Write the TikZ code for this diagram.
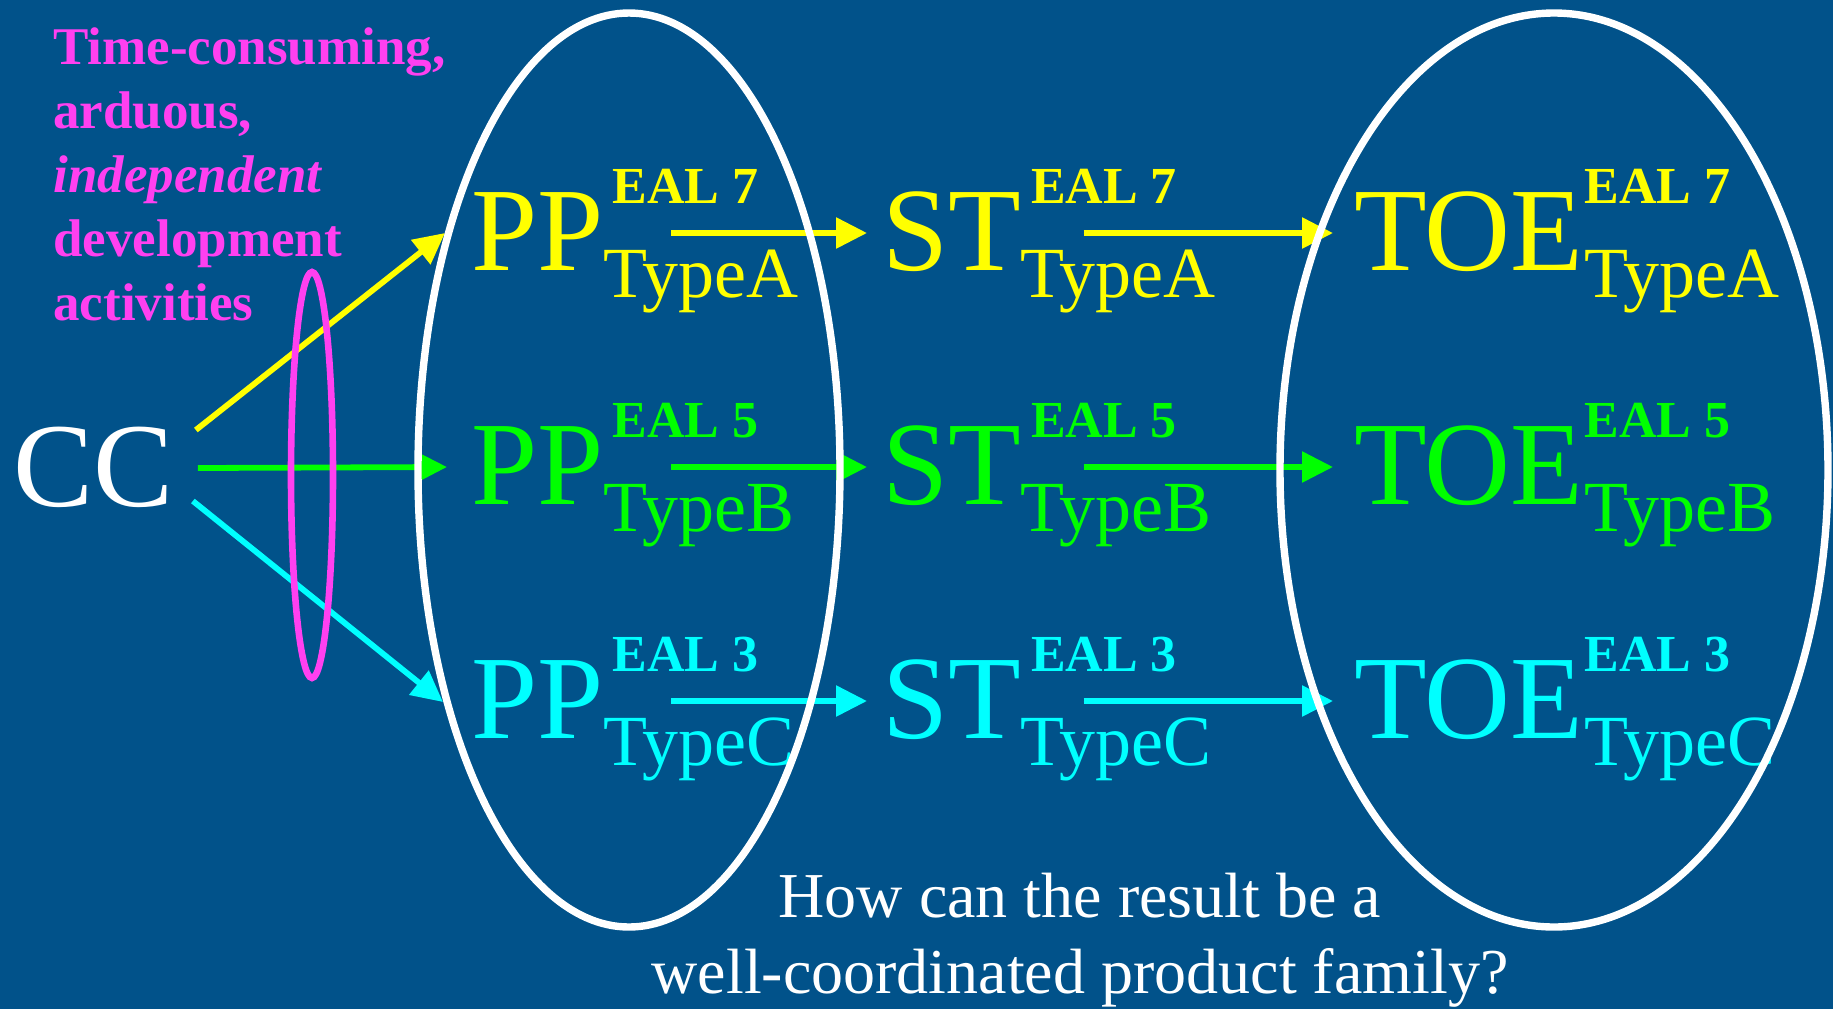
\documentclass[tikz,border=0pt]{standalone}
\usepackage{fontspec}
\setmainfont{Liberation Serif}
\usetikzlibrary{arrows.meta}
\definecolor{bg}{RGB}{1,82,138}
\definecolor{mag}{RGB}{255,64,240}
\definecolor{yel}{RGB}{255,255,0}
\definecolor{grn}{RGB}{0,255,0}
\definecolor{cyn}{RGB}{0,255,255}
\begin{document}
\begin{tikzpicture}[x=0.5pt,y=-0.5pt,
  big/.style={inner sep=0pt,anchor=base west,font=\fontsize{59.5}{60}\selectfont},
  suptext/.style={inner sep=0pt,anchor=base west,font=\bfseries\fontsize{26}{26}\selectfont},
  subtext/.style={inner sep=0pt,anchor=base west,font=\fontsize{36}{36}\selectfont},
  arr/.style={line width=2.9pt,-{Triangle[length=15.5pt,width=15pt]}},
  ring/.style={draw=white,line width=3.7pt},
  pinkring/.style={draw=mag,line width=3.3pt}]
\fill[bg] (0,0) rectangle (1833,1009);
\useasboundingbox (0,0) rectangle (1833,1009);

% left note
\node[anchor=north west,inner sep=0pt,align=left,text=mag,
      font=\bfseries\fontsize{26.5}{32}\selectfont] (note) at (53,27)
  {Time-consuming,\\arduous,\\{\itshape independent}\\development\\activities};

% CC
\node[big,text=white,font=\fontsize{60}{60}\selectfont] (CC) at (13,506) {CC};

% rows
\foreach \r/\c/\e/\t/\yy in {a/yel/7/A/270, b/grn/5/B/504, c/cyn/3/C/738}{
  \node[big,text=\c] (PP\r) at (471,\yy) {PP};
  \node[suptext,text=\c] (PPsup\r) at ([shift={(8,-67)}]PP\r.base east) {EAL \e};
  \node[subtext,text=\c] (PPsub\r) at ([shift={(-1,27)}]PP\r.base east) {Type\t};
  \node[big,text=\c] (ST\r) at (882,\yy) {ST};
  \node[suptext,text=\c] (STsup\r) at ([shift={(9,-67)}]ST\r.base east) {EAL \e};
  \node[subtext,text=\c] (STsub\r) at ([shift={(-2,27)}]ST\r.base east) {Type\t};
  \node[big,text=\c] (TOE\r) at (1354,\yy) {TOE};
  \node[suptext,text=\c] (TOEsup\r) at ([shift={(0,-67)}]TOE\r.base east) {EAL \e};
  \node[subtext,text=\c] (TOEsub\r) at ([shift={(0,27)}]TOE\r.base east) {Type\t};
  \draw[arr,draw=\c,fill=\c] ([shift={(67,-37)}]PP\r.base east) -- ([shift={(-15,-37)}]ST\r.base west);
  \draw[arr,draw=\c,fill=\c] ([shift={(62,-37)}]ST\r.base east) -- ([shift={(-21,-37)}]TOE\r.base west);
}

% CC arrows
\draw[arr,draw=yel,fill=yel] ([shift={(22,-76)}]CC.base east) -- ([shift={(-26,-37)}]PPa.base west);
\draw[arr,draw=grn,fill=grn] ([shift={(24,-38)}]CC.base east) -- ([shift={(-24,-37)}]PPb.base west);
\draw[arr,draw=cyn,fill=cyn] ([shift={(19,-5)}]CC.base east) -- ([shift={(-28,-36)}]PPc.base west);

% question
\node[anchor=north,inner sep=0pt,align=center,text=white,
      font=\fontsize{32}{38}\selectfont] (q) at (1080,873)
  {How can the result be a\\well-coordinated product family?};

% ellipses
\draw[ring] (629,470) ellipse [x radius=211, y radius=457];
\draw[ring] (1554,470) ellipse [x radius=274, y radius=457];
\draw[pinkring] (312,475) ellipse [x radius=21, y radius=203];
\end{tikzpicture}
\end{document}
